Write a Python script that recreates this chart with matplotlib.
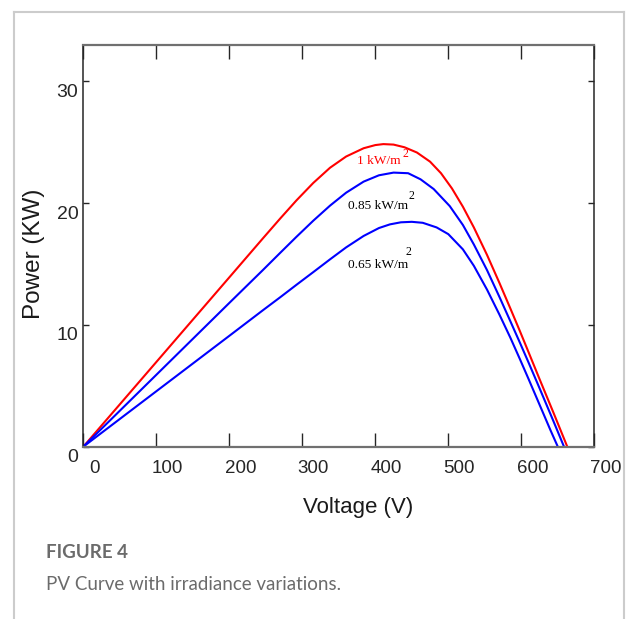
import matplotlib
matplotlib.use("Agg")
import matplotlib.pyplot as plt
from matplotlib.transforms import ScaledTranslation
from matplotlib.lines import Line2D

# ---- data ----
v_1000 = [0, 100, 200, 246, 270, 292, 315, 338, 360, 384, 400, 411, 425, 440, 457, 475, 490,
          505, 520, 535, 553, 570, 585, 598, 610, 625, 644, 663]
p_1000 = [0, 6.95, 13.9, 17.1, 18.75, 20.22, 21.65, 22.9, 23.82, 24.5, 24.76, 24.84, 24.8, 24.58,
          24.15, 23.4, 22.45, 21.2, 19.7, 18.0, 15.75, 13.45, 11.35, 9.5, 7.75, 5.55, 2.8, 0]

v_850 = [0, 100, 200, 246, 270, 292, 315, 338, 360, 384, 405, 425, 445, 462, 480, 502, 520,
         535, 553, 570, 585, 598, 610, 625, 644, 658.5]
p_850 = [0, 5.9, 11.8, 14.5, 15.93, 17.23, 18.55, 19.79, 20.85, 21.76, 22.28, 22.5, 22.45, 21.95,
         21.15, 19.75, 18.2, 16.6, 14.5, 12.3, 10.3, 8.55, 6.9, 4.8, 2.1, 0]

v_650 = [0, 100, 200, 246, 270, 292, 315, 338, 360, 384, 405, 420, 435, 450, 465, 484, 500,
         520, 535, 553, 570, 585, 598, 610, 625, 640, 650]
p_650 = [0, 4.55, 9.1, 11.2, 12.28, 13.29, 14.33, 15.38, 16.36, 17.3, 17.95, 18.25, 18.42, 18.46,
         18.38, 18.0, 17.45, 16.2, 14.85, 12.9, 10.85, 8.95, 7.2, 5.55, 3.45, 1.35, 0]

x_ticks = [0, 100, 200, 300, 400, 500, 600, 700]
y_ticks = [0, 10, 20, 30]
curve_labels = ["1 kW/m", "0.85 kW/m", "0.65 kW/m"]

W, H, DPI = 6.27, 6.19, 100
fig = plt.figure(figsize=(W, H), dpi=DPI)
fig.patch.set_facecolor("white")

ax = fig.add_axes([83.3 / 627, 1 - 446.7 / 619, (594.3 - 83.3) / 627, (446.7 - 44.7) / 619])

ax.plot(v_1000, p_1000, color="#ff0000", lw=1.5)
ax.plot(v_850, p_850, color="#0000ff", lw=1.5)
ax.plot(v_650, p_650, color="#0000ff", lw=1.5)

ax.set_xlim(0, 700)
ax.set_ylim(0, 33)
ax.set_xticks(x_ticks)
ax.set_xticklabels([str(t) for t in x_ticks])
ax.set_yticks(y_ticks)
ax.set_yticklabels([str(t) for t in y_ticks])

ax.tick_params(axis="x", direction="in", length=10, width=1, top=True, pad=9.5,
               colors="#262626", labelsize=13.5)
ax.tick_params(axis="y", direction="in", length=4.5, width=1, right=True, pad=3.5,
               colors="#262626", labelsize=14)
for lab in ax.get_xticklabels() + ax.get_yticklabels():
    lab.set_fontfamily(["Liberation Sans", "DejaVu Sans"])
for lab in ax.get_xticklabels():
    lab.set_transform(lab.get_transform() + ScaledTranslation(0.11, 0, fig.dpi_scale_trans))
for lab in ax.get_yticklabels():
    lab.set_transform(lab.get_transform() + ScaledTranslation(0, -0.09, fig.dpi_scale_trans))

for side in ("bottom", "top"):
    ax.spines[side].set_color("#707070")
    ax.spines[side].set_linewidth(1.6)
for side in ("left", "right"):
    ax.spines[side].set_color("#262626")
    ax.spines[side].set_linewidth(1.1)

# curve annotations
serif = ["Liberation Serif", "DejaVu Serif"]
ax.text(374.5, 23.44, curve_labels[0], color="#ff0000", fontsize=9.6, family=serif, va="center", ha="left")
ax.text(436.6, 24.0, "2", color="#ff0000", fontsize=8.5, family=serif, va="center", ha="left")
ax.text(362.6, 19.79, curve_labels[1], color="black", fontsize=9.6, family=serif, va="center", ha="left")
ax.text(446.0, 20.57, "2", color="black", fontsize=8.5, family=serif, va="center", ha="left")
ax.text(362.6, 14.9, curve_labels[2], color="black", fontsize=9.6, family=serif, va="center", ha="left")
ax.text(442.0, 15.97, "2", color="black", fontsize=8.5, family=serif, va="center", ha="left")

# axis labels
fig.text(357.7 / 627, 1 - 508 / 619, "Voltage (V)", ha="center", va="center",
         fontsize=16, family=["Liberation Sans", "DejaVu Sans"], color="#1a1a1a")
fig.text(34 / 627, 1 - 254 / 619, "Power (KW)", ha="center", va="center", rotation=90,
         fontsize=17.5, family=["Liberation Sans", "DejaVu Sans"], color="#1a1a1a")

# caption
fig.text(46 / 627, 1 - 553 / 619, "FIGURE 4", ha="left", va="center", fontsize=13.5,
         fontweight="bold", family=["Lato", "DejaVu Sans"], color="#6b6b6b")
fig.text(46 / 627, 1 - 585 / 619, "PV Curve with irradiance variations.", ha="left", va="center",
         fontsize=13.5, family=["Lato", "DejaVu Sans"], color="#6b6b6b")

# outer frame
bc = "#cccccc"
fig.add_artist(Line2D([14 / 627, 14 / 627], [0, 1 - 12 / 619], transform=fig.transFigure, color=bc, lw=1.5))
fig.add_artist(Line2D([624 / 627, 624 / 627], [0, 1 - 12 / 619], transform=fig.transFigure, color=bc, lw=1.5))
fig.add_artist(Line2D([14 / 627, 624 / 627], [1 - 12 / 619, 1 - 12 / 619], transform=fig.transFigure, color=bc, lw=1.5))

fig.savefig("out.png", dpi=DPI, facecolor="white")
